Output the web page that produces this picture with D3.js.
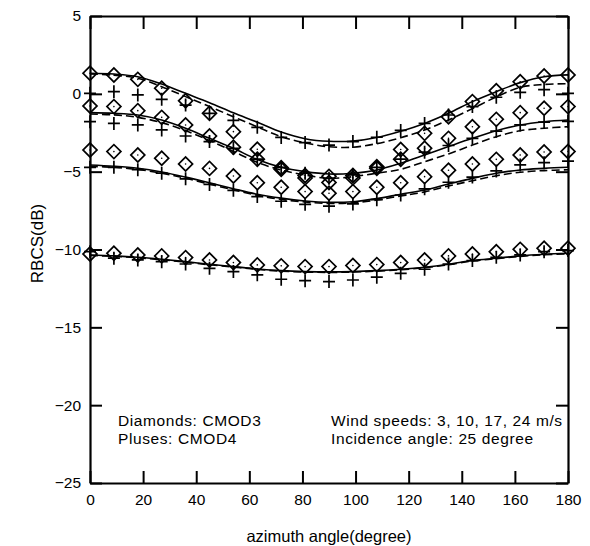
<!DOCTYPE html>
<html>
<head>
<meta charset="utf-8">
<script src="https://cdn.jsdelivr.net/npm/d3@7"></script>
<style>
  html, body { margin: 0; padding: 0; background: #fff; }
  svg { display: block; }
  text { font-family: "Liberation Sans", Arial, Helvetica, sans-serif; fill: #000; }
</style>
</head>
<body>
<svg id="chart" width="590" height="546"></svg>
<script>
// Azimuth angles (degrees) at which the models are sampled
const azimuth = [0, 9, 18, 27, 36, 45, 54, 63, 72, 81, 90, 99, 108, 117, 126, 135, 144, 153, 162, 171, 180];

// CMOD3 (diamonds), RBCS in dB, wind speeds 24, 17, 10, 3 m/s
const cmod3_24 = [1.32, 1.21, 0.93, 0.36, -0.44, -1.25, -2.43, -3.56, -4.75, -5.25, -5.30, -5.25, -4.68, -3.58, -2.54, -1.47, -0.50, 0.20, 0.78, 1.15, 1.21];
const cmod3_17 = [-0.78, -0.82, -1.08, -1.51, -2.00, -2.71, -3.43, -4.20, -4.85, -5.40, -5.70, -5.40, -4.78, -4.20, -3.50, -2.86, -2.11, -1.64, -1.21, -0.93, -0.82];
const cmod3_10 = [-3.61, -3.71, -3.93, -4.14, -4.51, -4.79, -5.28, -5.71, -6.00, -6.28, -6.39, -6.28, -6.00, -5.71, -5.32, -4.91, -4.51, -4.21, -3.93, -3.74, -3.70];
const cmod3_3  = [-10.29, -10.24, -10.35, -10.41, -10.52, -10.67, -10.84, -10.99, -11.05, -11.10, -11.10, -11.03, -10.97, -10.84, -10.67, -10.41, -10.29, -10.14, -9.99, -9.92, -9.92];

// CMOD4 (pluses)
const cmod4_24 = [0.03, 0.14, -0.07, -0.35, -0.72, -1.25, -1.70, -2.15, -2.80, -3.13, -3.29, -3.07, -2.79, -2.35, -1.90, -1.36, -0.82, -0.22, 0.10, 0.27, 0.03];
const cmod4_17 = [-1.79, -1.90, -2.00, -2.32, -2.71, -3.07, -3.50, -4.20, -4.72, -5.10, -5.43, -5.20, -4.72, -4.20, -3.75, -3.32, -2.86, -2.40, -2.00, -1.82, -1.77];
const cmod4_10 = [-4.72, -4.72, -4.87, -5.10, -5.46, -5.82, -6.20, -6.60, -6.90, -7.10, -7.22, -7.07, -6.80, -6.50, -6.10, -5.68, -5.35, -4.95, -4.57, -4.42, -4.32];
const cmod4_3  = [-10.14, -10.56, -10.67, -10.78, -10.93, -11.21, -11.42, -11.63, -11.91, -12.00, -12.06, -11.96, -11.78, -11.53, -11.27, -10.93, -10.71, -10.50, -10.35, -10.14, -10.07];

// Model curves: solid and dashed, per wind speed
const solid_24  = [1.32, 1.27, 1.10, 0.63, 0.03, -0.57, -1.22, -1.82, -2.45, -2.88, -3.05, -3.03, -2.80, -2.40, -1.90, -1.25, -0.50, 0.14, 0.72, 1.10, 1.22];
const dashed_24 = [1.28, 1.20, 1.00, 0.46, -0.18, -0.82, -1.47, -2.12, -2.75, -3.15, -3.40, -3.43, -3.20, -2.82, -2.32, -1.68, -0.95, -0.20, 0.42, 0.60, 0.65];
const solid_17  = [-1.21, -1.25, -1.36, -1.68, -2.21, -2.86, -3.50, -4.22, -4.72, -5.00, -5.15, -5.10, -4.89, -4.46, -3.93, -3.39, -2.86, -2.37, -2.00, -1.79, -1.68];
const dashed_17 = [-1.30, -1.35, -1.51, -1.85, -2.37, -3.00, -3.70, -4.40, -4.90, -5.21, -5.43, -5.32, -5.10, -4.85, -4.36, -3.86, -3.29, -2.75, -2.37, -2.21, -2.11];
const solid_10  = [-4.57, -4.65, -4.78, -5.02, -5.35, -5.72, -6.10, -6.45, -6.70, -6.88, -6.97, -6.93, -6.73, -6.45, -6.18, -5.79, -5.43, -5.10, -4.89, -4.79, -4.72];
const dashed_10 = [-4.66, -4.72, -4.86, -5.10, -5.42, -5.80, -6.17, -6.52, -6.78, -6.95, -7.04, -7.00, -6.82, -6.56, -6.30, -5.92, -5.58, -5.26, -5.04, -4.93, -4.88];
const solid_3   = [-10.35, -10.41, -10.50, -10.63, -10.78, -10.95, -11.10, -11.25, -11.36, -11.42, -11.44, -11.42, -11.36, -11.27, -11.14, -10.95, -10.71, -10.56, -10.41, -10.31, -10.24];
const dashed_3  = [-10.38, -10.44, -10.53, -10.66, -10.81, -10.98, -11.13, -11.28, -11.39, -11.45, -11.47, -11.45, -11.39, -11.30, -11.17, -10.98, -10.74, -10.59, -10.44, -10.34, -10.27];

// Tick values
const xTicks = [0, 20, 40, 60, 80, 100, 120, 140, 160, 180];
const yTicks = [5, 0, -5, -10, -15, -20, -25];

const svg = d3.select("#chart");
const plotLeft = 90, plotRight = 568, plotTop = 16, plotBottom = 483;

const x = d3.scaleLinear().domain([0, 180]).range([plotLeft, plotRight]);
const y = d3.scaleLinear().domain([-25, 5]).range([plotBottom, plotTop]);

// Model curves
const line = d3.line()
  .x((d, i) => x(azimuth[i]))
  .y(d => y(d))
  .curve(d3.curveCatmullRom.alpha(0.5));

const curves = [
  { v: solid_24, dash: null }, { v: dashed_24, dash: "8,4" },
  { v: solid_17, dash: null }, { v: dashed_17, dash: "8,4" },
  { v: solid_10, dash: null }, { v: dashed_10, dash: "8,4" },
  { v: solid_3,  dash: null }, { v: dashed_3,  dash: "8,4" }
];
svg.append("g").selectAll("path").data(curves).join("path")
  .attr("d", c => line(c.v))
  .attr("fill", "none")
  .attr("stroke", "#000")
  .attr("stroke-width", 1.6)
  .attr("stroke-dasharray", c => c.dash);

// CMOD3 diamonds with a centre dot
const diamondSeries = [cmod3_24, cmod3_17, cmod3_10, cmod3_3];
const diamond = d3.symbol(d3.symbolSquare, 98);
const gD = svg.append("g");
diamondSeries.forEach(series => {
  const g = gD.append("g");
  g.selectAll("path").data(series).join("path")
    .attr("d", diamond)
    .attr("transform", (d, i) => `translate(${x(azimuth[i])},${y(d)}) rotate(45)`)
    .attr("fill", "none")
    .attr("stroke", "#000")
    .attr("stroke-width", 1.7);
  g.selectAll("circle").data(series).join("circle")
    .attr("cx", (d, i) => x(azimuth[i]))
    .attr("cy", d => y(d))
    .attr("r", 0.8)
    .attr("fill", "#000");
});

// CMOD4 pluses
const plusSeries = [cmod4_24, cmod4_17, cmod4_10, cmod4_3];
const gP = svg.append("g");
plusSeries.forEach(series => {
  gP.append("g").selectAll("path").data(series).join("path")
    .attr("d", "M-6,0H6M0,-6.5V6.5")
    .attr("transform", (d, i) => `translate(${x(azimuth[i])},${y(d)})`)
    .attr("fill", "none")
    .attr("stroke", "#000")
    .attr("stroke-width", 1.7);
});

// Axes with inward ticks on all four sides
function styleAxis(g) {
  g.select(".domain").attr("stroke", "#000").attr("stroke-width", 2.2);
  g.selectAll(".tick line").attr("stroke", "#000").attr("stroke-width", 2);
  g.selectAll(".tick text")
    .attr("font-family", "Liberation Sans, Arial, sans-serif")
    .attr("font-size", 15.5)
    .attr("fill", "#000");
}

svg.append("g")
  .attr("transform", `translate(0,${plotBottom})`)
  .call(d3.axisBottom(x).tickValues(xTicks).tickFormat(d3.format("d"))
    .tickSizeInner(-12).tickSizeOuter(0).tickPadding(11))
  .call(styleAxis);

svg.append("g")
  .attr("transform", `translate(0,${plotTop})`)
  .call(d3.axisTop(x).tickValues(xTicks).tickFormat("")
    .tickSizeInner(-13).tickSizeOuter(0))
  .call(styleAxis);

svg.append("g")
  .attr("transform", `translate(${plotLeft},0)`)
  .call(d3.axisLeft(y).tickValues(yTicks).tickFormat(d3.format("d"))
    .tickSizeInner(-12).tickSizeOuter(0).tickPadding(9))
  .call(styleAxis);

svg.append("g")
  .attr("transform", `translate(${plotRight},0)`)
  .call(d3.axisRight(y).tickValues(yTicks).tickFormat("")
    .tickSizeInner(-12).tickSizeOuter(0))
  .call(styleAxis);

// Axis titles
svg.append("text")
  .attr("x", (plotLeft + plotRight) / 2)
  .attr("y", 542)
  .attr("text-anchor", "middle")
  .style("font-size", "16.5px")
  .text("azimuth angle(degree)");

svg.append("text")
  .attr("transform", `translate(43,${(plotTop + plotBottom) / 2 - 6}) rotate(-90)`)
  .attr("text-anchor", "middle")
  .style("font-size", "17px")
  .text("RBCS(dB)");

// Annotations
const notesLeft = ["Diamonds: CMOD3", "Pluses: CMOD4"];
const notesRight = ["Wind speeds: 3, 10, 17, 24 m/s", "Incidence angle: 25 degree"];
svg.append("g").selectAll("text").data(notesLeft).join("text")
  .attr("x", 118).attr("y", (d, i) => 426 + i * 18)
  .style("font-size", "15.5px").style("letter-spacing", "0.6px").text(d => d);
svg.append("g").selectAll("text").data(notesRight).join("text")
  .attr("x", 331).attr("y", (d, i) => 426 + i * 18)
  .style("font-size", "15.5px").style("letter-spacing", "0.6px").text(d => d);
</script>
</body>
</html>
